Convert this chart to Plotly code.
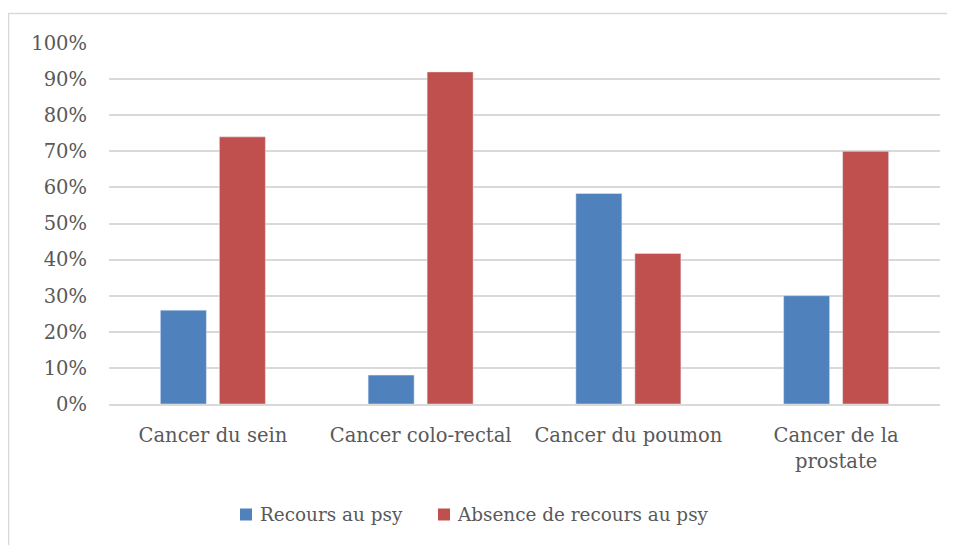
import plotly.graph_objects as go

categories = ["Cancer du sein", "Cancer colo-rectal", "Cancer du poumon", "Cancer de la<br>prostate"]
recours = [0.26, 0.08, 0.583, 0.30]
absence = [0.74, 0.92, 0.417, 0.70]
series_names = ["Recours au psy", "Absence de recours au psy"]
series_colors = ["#4f81bd", "#c0504d"]
tick_vals = [i / 10 for i in range(11)]
tick_text = [f"{i*10}%" for i in range(11)]

# page has an 8px body margin; layout below is expressed in page pixels
OFF = 8
W, H = 955, 545
PL, PR, PT, PB = 109, 940, 43, 404  # plot area in page pixels
L = PL - OFF
T = PT - OFF
R = W - (PR - OFF)
B = H - (PB - OFF)
pw, ph = PR - PL, PB - PT

font_family = "DejaVu Serif"
gray = "#595959"
grid = "#d9d9d9"


def px_x(p):
    return (p - PL) / pw


def px_y(p):
    return 1 - (p - PT) / ph


fig = go.Figure()
fig.add_trace(go.Bar(x=categories, y=recours, name=series_names[0],
                     marker_color=series_colors[0], showlegend=False))
fig.add_trace(go.Bar(x=categories, y=absence, name=series_names[1],
                     marker_color=series_colors[1], showlegend=False))

shapes = [dict(type="rect", xref="paper", yref="paper",
               x0=px_x(8.5), x1=px_x(970), y0=px_y(570), y1=px_y(13.5),
               line=dict(color=grid, width=1.5), fillcolor="rgba(0,0,0,0)", layer="below")]
annotations = []
legend_sq_x = [240, 438]
legend_tx_x = [258, 455]
for name, col, sx, tx in zip(series_names, series_colors, legend_sq_x, legend_tx_x):
    shapes.append(dict(type="rect", xref="paper", yref="paper",
                       x0=px_x(sx), x1=px_x(sx + 12), y0=px_y(520.5), y1=px_y(508.5),
                       line=dict(width=0), fillcolor=col))
    annotations.append(dict(xref="paper", yref="paper", x=px_x(tx), y=px_y(514),
                            xanchor="left", yanchor="middle", showarrow=False,
                            text=name, font=dict(size=18.4, color=gray, family=font_family)))

fig.update_layout(
    width=W, height=H,
    margin=dict(l=L, r=R, t=T, b=B, autoexpand=False),
    paper_bgcolor="white", plot_bgcolor="white",
    barmode="group", bargap=0.432, bargroupgap=0.22,
    font=dict(family=font_family, size=19.5, color=gray),
    showlegend=False,
    xaxis=dict(showgrid=False, showline=True, linecolor=grid, linewidth=2,
               ticks="", ticklabelstandoff=13, tickfont=dict(size=19.5, color=gray)),
    yaxis=dict(range=[0, 1.0], tickvals=tick_vals, ticktext=tick_text,
               showgrid=True, gridcolor=grid, gridwidth=2,
               zeroline=False, showline=False, ticks="", ticklabelstandoff=21,
               tickfont=dict(size=19.5, color=gray)),
    shapes=shapes,
    annotations=annotations,
)

fig.write_html("out.html")
